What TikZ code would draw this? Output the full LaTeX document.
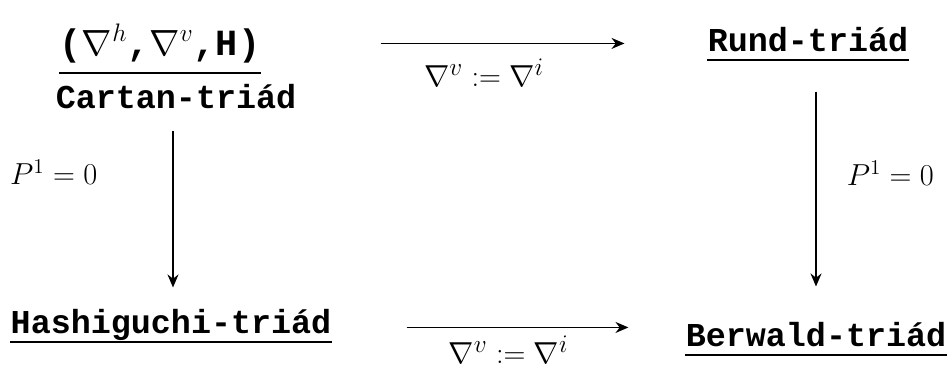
\documentclass[tikz,border=0pt]{standalone}
\usepackage{amsmath}
\usepackage{fontspec}
\setmonofont{Liberation Mono}
\usetikzlibrary{arrows.meta, positioning, calc}
\tikzset{
  triad/.style={font=\ttfamily\bfseries\fontsize{19}{22}\selectfont,
    inner sep=0pt, anchor=base},
  ul/.style={append after command={\pgfextra{
      \draw[line width=1.1pt]
        ([yshift=-#1]\tikzlastnode.base west)
        -- ([yshift=-#1]\tikzlastnode.base east);}}},
  ul/.default=1.8mm,
  arr/.style={-{Stealth[length=2.6mm, width=2.2mm]}, draw=black, line width=.9pt},
  lbl/.style={font=\fontsize{19}{22}\selectfont, inner sep=0pt},
  plbl/.style={font=\fontsize{18}{21}\selectfont, inner sep=0pt},
}

\begin{document}
\begin{tikzpicture}[x=0.02cm, y=-0.02cm]
    \useasboundingbox (0,0) rectangle (950,376);

    \node[triad, ul=3.6mm, font=\ttfamily\bfseries\fontsize{21}{24}\selectfont]
                           (triple)  at (160,55)  {($\nabla^{h}$,$\nabla^{v}$,H)};
    \node[triad]           (cartan)  at (176,108) {Cartan-tri\'ad};
    \node[triad, ul]       (rund)    at (808,51)  {Rund-tri\'ad};
    \node[triad, ul]       (hashi)   at (171,333) {Hashiguchi-tri\'ad};
    \node[triad, ul]       (berwald) at (816,346) {Berwald-tri\'ad};

    \draw[arr, shorten <=2.4cm, shorten >=1.66cm]
      (triple.east) -- (rund.west |- triple.east)
      node[lbl, midway, below=0.3cm] (topv) {$\nabla^{v} := \nabla^{i}$};
    \draw[arr, shorten <=1.5cm, shorten >=1.14cm]
      ([yshift=-0.06cm]hashi.east) -- ([yshift=-0.06cm]berwald.west |- hashi.east)
      node[lbl, midway, below=0.15cm] (botv) {$\nabla^{v} := \nabla^{i}$};
    \draw[arr, shorten <=0.45cm, shorten >=0.42cm]
      ([xshift=-0.06cm]cartan.south) -- ([xshift=-0.06cm]cartan.south |- hashi.north)
      node[plbl, pos=0.32, left=1.5cm] (leftp) {$P^{1} = 0$};
    \draw[arr, shorten <=0.8cm, shorten >=0.7cm]
      (berwald.north |- rund.south) -- (berwald.north)
      node[plbl, pos=0.45, right=0.6cm] (rightp) {$P^{1} = 0$};
  \end{tikzpicture}
\end{document}
